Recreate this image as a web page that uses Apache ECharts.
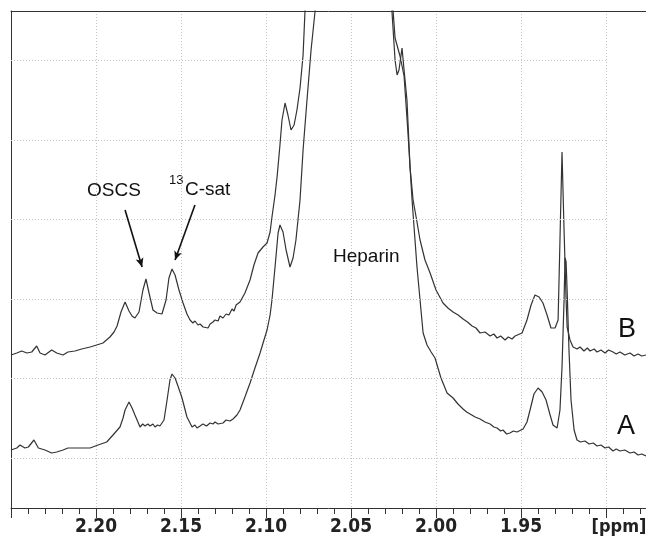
<!DOCTYPE html>
<html>
<head>
<meta charset="utf-8">
<title>OSCS / heparin 1H NMR</title>
<script src="https://cdn.jsdelivr.net/npm/echarts@6.0.0/dist/echarts.min.js"></script>
<style>
  html, body { margin: 0; padding: 0; background: #fff; }
  #main { width: 646px; height: 543px; }
</style>
</head>
<body>
<div id="main"></div>
<script>
// spectrum B (upper trace) : [ppm, intensity]
const traceB = [
  [2.250,153],[2.2466,155],[2.2437,157],[2.2406,155],[2.2378,156],[2.2349,162],[2.2329,155],[2.2300,153],
  [2.2261,158],[2.2231,155],[2.2194,153],[2.2165,156],[2.2124,157],[2.2084,159],[2.2035,161],[2.1996,163],
  [2.1959,165],[2.1918,171],[2.1894,176],[2.1876,182],[2.1853,196],[2.1829,206],[2.1806,197],[2.1788,192],
  [2.1771,190],[2.1747,196],[2.1724,218],[2.1706,229],[2.1688,215],[2.1665,198],[2.1641,195],[2.1612,194],
  [2.1588,208],[2.1571,230],[2.1553,239],[2.1535,233],[2.1512,218],[2.1488,205],[2.1465,194],[2.1447,188],
  [2.1430,185],[2.1418,187],[2.1400,183],[2.1388,184],[2.1370,181],[2.1359,182],[2.1341,180],[2.1329,184],
  [2.1312,186],[2.1300,188],[2.1282,187],[2.1271,192],[2.1253,190],[2.1235,194],[2.1218,193],[2.1200,199],
  [2.1188,197],[2.1176,203],[2.1165,201],[2.1153,206],[2.1124,215],[2.1094,228],[2.1071,243],[2.1047,255],
  [2.1018,261],[2.0994,265],[2.0976,276],[2.0965,291],[2.0947,313],[2.0935,331],[2.0918,363],[2.0906,388],
  [2.0888,405],[2.0871,393],[2.0853,378],[2.0835,383],[2.0818,398],[2.0800,420],[2.0782,453],[2.0771,496],
  [2.0753,548],[2.0682,758],[2.0565,958],[2.0447,958],[2.0329,758],[2.0271,548],[2.0259,496],[2.0241,448],
  [2.0229,433],[2.0218,438],[2.0200,460],[2.0188,438],[2.0171,408],[2.0153,341],[2.0135,308],[2.0112,286],
  [2.0094,268],[2.0065,248],[2.0035,235],[2.0000,218],[1.9959,205],[1.9930,200],[1.9900,196],[1.9870,193],
  [1.9841,189],[1.9815,186],[1.9788,182],[1.9765,180],[1.9741,175],[1.9712,176],[1.9682,172],[1.9660,174],
  [1.9641,170],[1.9620,172],[1.9594,168],[1.9575,171],[1.9553,169],[1.9535,172],[1.9524,170],[1.9494,175],
  [1.9465,188],[1.9441,203],[1.9418,213],[1.9394,211],[1.9371,205],[1.9347,193],[1.9324,180],[1.9300,180],
  [1.9282,188],[1.9271,268],[1.9259,356],[1.9253,358],[1.9247,278],[1.9235,208],[1.9229,181],[1.9212,168],
  [1.9194,161],[1.9170,159],[1.9153,161],[1.9130,157],[1.9110,160],[1.9094,157],[1.9070,159],[1.9053,156],
  [1.9030,158],[1.9006,155],[1.8985,158],[1.8959,156],[1.8940,154],[1.8918,156],[1.8890,153],[1.8859,155],
  [1.8835,152],[1.8812,154],[1.8790,152],[1.8765,153]
];

// spectrum A (lower trace)
const traceA = [
  [2.250,58],[2.2466,60],[2.2447,63],[2.2418,60],[2.2398,61],[2.2365,68],[2.2339,60],[2.2300,58],
  [2.2261,55],[2.2231,56],[2.2194,58],[2.2165,60],[2.2124,60],[2.2084,60],[2.2035,60],[2.1988,63],
  [2.1937,66],[2.1900,73],[2.1859,81],[2.1841,90],[2.1829,98],[2.1806,106],[2.1788,100],[2.1771,93],
  [2.1741,81],[2.1725,84],[2.1712,82],[2.1695,84],[2.1682,82],[2.1665,84],[2.1653,81],[2.1638,83],
  [2.1624,82],[2.1600,88],[2.1582,108],[2.1565,128],[2.1553,134],[2.1535,130],[2.1518,122],[2.1494,110],
  [2.1465,91],[2.1435,81],[2.1418,83],[2.1406,80],[2.1388,82],[2.1371,84],[2.1350,82],[2.1329,85],
  [2.1312,84],[2.1300,86],[2.1282,84],[2.1271,86],[2.1253,85],[2.1235,88],[2.1212,87],[2.1194,89],
  [2.1171,93],[2.1153,98],[2.1124,111],[2.1094,125],[2.1065,140],[2.1035,155],[2.1012,168],[2.0994,178],
  [2.0976,193],[2.0965,208],[2.0947,241],[2.0929,275],[2.0918,283],[2.0900,276],[2.0882,258],[2.0859,241],
  [2.0841,250],[2.0824,268],[2.0800,308],[2.0782,358],[2.0759,408],[2.0735,458],[2.0712,496],[2.0682,568],
  [2.0565,808],[2.0447,828],[2.0329,658],[2.0271,540],[2.0241,470],[2.0212,452],[2.0188,432],[2.0165,375],
  [2.0141,308],[2.0112,241],[2.0076,175],[2.0053,163],[2.0029,156],[2.0006,150],[1.9971,130],[1.9935,115],
  [1.9900,110],[1.9871,104],[1.9841,99],[1.9820,96],[1.9800,94],[1.9770,91],[1.9741,89],[1.9712,86],
  [1.9682,84],[1.9660,81],[1.9641,80],[1.9620,77],[1.9606,78],[1.9585,74],[1.9565,75],[1.9545,77],
  [1.9524,76],[1.9488,79],[1.9465,86],[1.9447,98],[1.9424,114],[1.9400,120],[1.9376,116],[1.9353,108],
  [1.9329,93],[1.9312,83],[1.9288,80],[1.9271,98],[1.9259,141],[1.9247,208],[1.9241,250],[1.9235,246],
  [1.9229,218],[1.9218,158],[1.9206,108],[1.9188,78],[1.9171,68],[1.9150,66],[1.9124,67],[1.9100,64],
  [1.9075,65],[1.9053,62],[1.9030,63],[1.9006,60],[1.8985,61],[1.8959,57],[1.8940,59],[1.8918,57],
  [1.8890,58],[1.8859,55],[1.8835,56],[1.8812,53],[1.8790,54],[1.8765,52]
];

// dotted horizontal grid (intensity units), drawn from 2.25 to 1.90 ppm only
const gridLevels = [50, 130, 209, 289, 368, 448];
const ppmLeft = 2.25, ppmRight = 1.8765, ppmGridEnd = 1.90;

// ppm runs right-to-left, so the axis works on -ppm
const toXY = pts => pts.map(p => [-p[0], p[1]]);

const labelFont = "'DejaVu Sans Condensed', 'Liberation Sans Narrow', 'Liberation Sans', Arial, sans-serif";
const textFont = "'Liberation Sans', Arial, sans-serif";
const dotted = { color: '#c4c4c4', type: [1, 2], width: 1 };
const traceStyle = { color: '#333', width: 1.2 };

const chart = echarts.init(document.getElementById('main'));
chart.setOption({
  animation: false,
  backgroundColor: '#fff',
  grid: { left: 11, right: 0, top: 11, bottom: 35, containLabel: false, outerBoundsMode: 'none' },
  xAxis: [{
    type: 'value',
    min: -ppmLeft,
    max: -ppmRight,
    interval: 0.05,
    axisLine: { show: true, lineStyle: { color: '#333', width: 1 } },
    axisTick: { show: true, length: 10, lineStyle: { color: '#333' } },
    minorTick: { show: true, splitNumber: 5, length: 6, lineStyle: { color: '#333' } },
    splitLine: { show: true, lineStyle: dotted },
    axisLabel: {
      margin: 10,
      color: '#222',
      fontWeight: 'bold',
      fontSize: 19,
      fontFamily: labelFont,
      formatter: function (v) {
        const p = -v;
        if (Math.abs(p - ppmGridEnd) < 1e-6) return '{u|[ppm]}';
        if (p > ppmLeft - 1e-4 || Math.abs(p * 20 - Math.round(p * 20)) > 1e-6) return '';
        return p.toFixed(2);
      },
      rich: {
        u: { fontWeight: 'bold', fontSize: 18, fontFamily: labelFont, color: '#222', padding: [0, 0, 0, 26] }
      }
    }
  }, {
    type: 'value',
    position: 'top',
    min: -ppmLeft,
    max: -ppmRight,
    axisLine: { show: true, lineStyle: { color: '#333', width: 1 } },
    axisTick: { show: false },
    axisLabel: { show: false },
    splitLine: { show: false }
  }],
  yAxis: {
    type: 'value',
    min: 0,
    max: 497,
    axisLine: { show: true, lineStyle: { color: '#333', width: 1 } },
    axisTick: { show: false },
    axisLabel: { show: false },
    splitLine: { show: false }
  },
  series: [
    {
      name: 'grid',
      type: 'line',
      data: [],
      z: 1,
      markLine: {
        silent: true,
        symbol: ['none', 'none'],
        label: { show: false },
        lineStyle: dotted,
        data: gridLevels.map(v => [{ coord: [-ppmLeft, v] }, { coord: [-ppmGridEnd, v] }])
      }
    },
    {
      name: 'B',
      type: 'line',
      data: toXY(traceB),
      showSymbol: false,
      symbol: 'none',
      lineStyle: traceStyle,
      z: 3,
      markLine: {
        silent: true,
        symbol: ['none', 'arrow'],
        symbolSize: [6, 9],
        label: { show: false },
        lineStyle: { color: '#111', width: 1.6, type: 'solid' },
        data: [
          [{ coord: [-2.1829, 298] }, { coord: [-2.1729, 241] }],
          [{ coord: [-2.1418, 303] }, { coord: [-2.1535, 248] }]
        ]
      }
    },
    {
      name: 'A',
      type: 'line',
      data: toXY(traceA),
      showSymbol: false,
      symbol: 'none',
      lineStyle: traceStyle,
      z: 3
    }
  ],
  graphic: [
    { type: 'text', x: 87, y: 191, style: { text: 'OSCS', font: '19px ' + textFont, fill: '#111', textVerticalAlign: 'middle' } },
    { type: 'text', x: 169, y: 180, style: { text: '13', font: '13px ' + textFont, fill: '#111', textVerticalAlign: 'middle' } },
    { type: 'text', x: 185, y: 190, style: { text: 'C-sat', font: '19px ' + textFont, fill: '#111', textVerticalAlign: 'middle' } },
    { type: 'text', x: 333, y: 257, style: { text: 'Heparin', font: '19px ' + textFont, fill: '#111', textVerticalAlign: 'middle' } },
    { type: 'text', x: 618, y: 330, style: { text: 'B', font: '27px ' + textFont, fill: '#111', textVerticalAlign: 'middle' } },
    { type: 'text', x: 617, y: 427, style: { text: 'A', font: '27px ' + textFont, fill: '#111', textVerticalAlign: 'middle' } }
  ]
});
</script>
</body>
</html>
